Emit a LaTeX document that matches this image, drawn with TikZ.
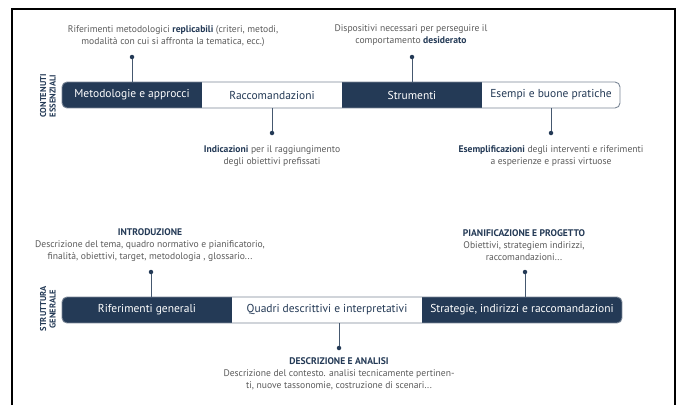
\documentclass[tikz,border=0pt]{standalone}
\usepackage{fontspec}
\setmainfont{PT Sans}
\definecolor{navy}{HTML}{243A56}
\definecolor{testo}{HTML}{5A5A5A}
\definecolor{bordo}{HTML}{7A8696}
\newcommand{\evid}[1]{\textbf{\color{navy}#1}}
\tikzset{
  seg/.style={minimum height=26, inner sep=0, font=\fontsize{11.5}{12}\selectfont},
  darkseg/.style={seg, fill=navy, text=white},
  lightseg/.style={seg, fill=white, text=navy},
  nota/.style={align=center, text=testo, inner sep=0, font=\fontsize{9.6}{12}\selectfont},
  sezione/.style={rotate=90, align=center, text=navy, inner sep=0, font=\bfseries\fontsize{8.5}{9.5}\selectfont},
  pin/.style={draw=navy!85, line width=0.9},
  dot/.style={circle, fill=navy, inner sep=0, minimum size=4.5},
  cornice/.style={draw=bordo, line width=0.9, rounded corners=5}
}
\begin{document}
\begin{tikzpicture}[x=1pt, y=-1pt]
\useasboundingbox (0,0) rectangle (679,405);
% frame
\draw[line width=1.3] (12,405) -- (12,9) -- (675,9) -- (675,405);

% contenuti essenziali
\node[sezione] (contenuti) at (48,96) {CONTENUTI\\ESSENZIALI};
\begin{scope}
\clip[rounded corners=5] (62,82) rectangle (620,108);
\node[darkseg, minimum width=140] (metodo) at (132,95) {Metodologie e approcci};
\node[lightseg, minimum width=140] (racc) at (272,95) {Raccomandazioni};
\node[darkseg, minimum width=140] (strum) at (412,95) {Strumenti};
\node[lightseg, minimum width=138] (esempi) at (551,95) {Esempi e buone pratiche};
\end{scope}
\draw[cornice] (62,82) rectangle (620,108);

\node[dot] (dmetodo) at (132,57) {};
\node[dot] (dracc) at (272,133) {};
\node[dot] (dstrum) at (412,57) {};
\node[dot] (desempi) at (551,133) {};
\draw[pin] (dmetodo) -- (metodo.north);
\draw[pin] (dracc) -- (racc.south);
\draw[pin] (dstrum) -- (strum.north);
\draw[pin] (desempi) -- (esempi.south);

\node[nota] (tmetodo) at (173,36) {Riferimenti metodologici \evid{replicabili} (criteri, metodi,\\modalità con cui si affronta la tematica, ecc.)};
\node[nota] (tracc) at (272,156) {\evid{Indicazioni} per il raggiungimento\\degli obiettivi prefissati};
\node[nota] (tstrum) at (411,35) {Dispositivi necessari per perseguire il\\comportamento \evid{desiderato}};
\node[nota] (tesempi) at (551,156) {\evid{Esemplificazioni} degli interventi e riferimenti\\a esperienze e prassi virtuose};

% struttura generale
\node[sezione] (struttura) at (48,309) {STRUTTURA\\GENERALE};
\begin{scope}
\clip[rounded corners=5] (62,297) rectangle (622,323);
\node[darkseg, minimum width=170] (riferimenti) at (147,310) {Riferimenti generali};
\node[lightseg, minimum width=190] (quadri) at (327,310) {Quadri descrittivi e interpretativi};
\node[darkseg, minimum width=200] (strategie) at (522,310) {Strategie, indirizzi e raccomandazioni};
\end{scope}
\draw[cornice] (62,297) rectangle (622,323);

\node[dot] (dintro) at (151,272) {};
\node[dot] (dquadri) at (339,348) {};
\node[dot] (dpiano) at (525,272) {};
\draw[pin] (dintro) -- (dintro |- riferimenti.north);
\draw[pin] (dquadri) -- (dquadri |- quadri.south);
\draw[pin] (dpiano) -- (dpiano |- strategie.north);

\node[nota] (tintro) at (150,245) {\evid{INTRODUZIONE}\\Descrizione del tema, quadro normativo e pianificatorio,\\finalità, obiettivi, target, metodologia , glossario...};
\node[nota] (tquadri) at (339,374) {\evid{DESCRIZIONE E ANALISI}\\Descrizione del contesto. analisi tecnicamente pertinen-\\ti, nuove tassonomie, costruzione di scenari...};
\node[nota] (tpiano) at (524,245) {\evid{PIANIFICAZIONE E PROGETTO}\\Obiettivi, strategiem indirizzi,\\raccomandazioni...};
\end{tikzpicture}
\end{document}
